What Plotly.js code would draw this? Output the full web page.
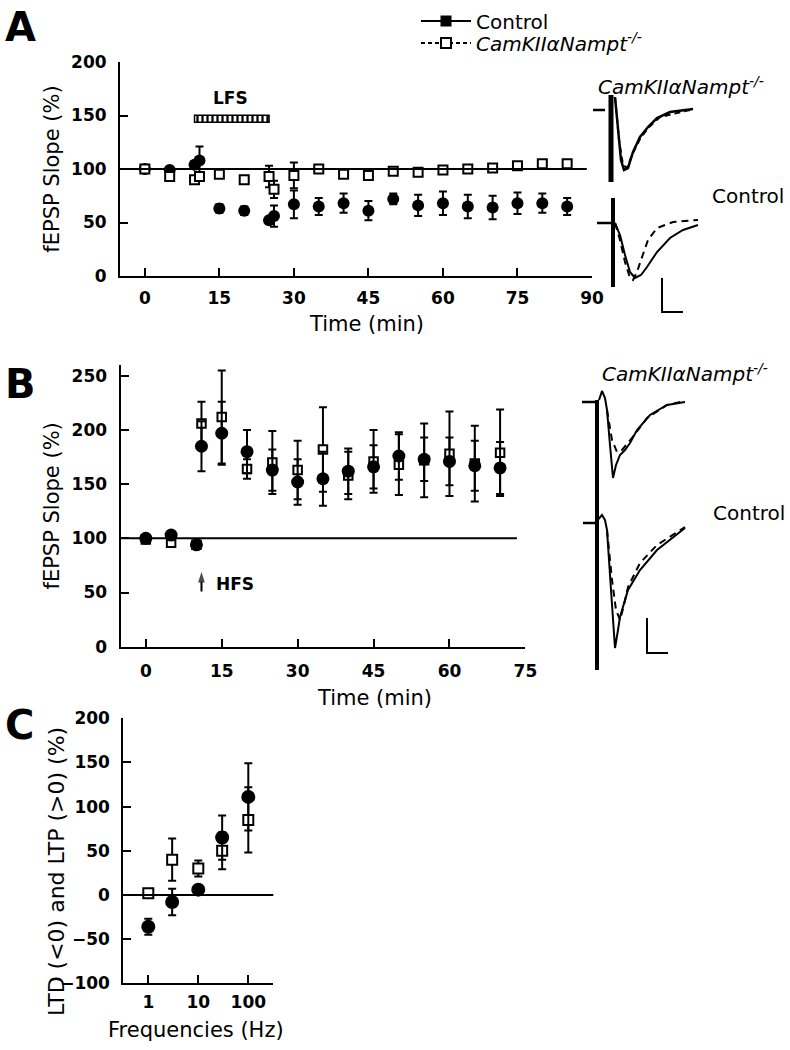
<!DOCTYPE html>
<html>
<head>
<meta charset="utf-8">
<script src="https://cdn.plot.ly/plotly-3.0.1.min.js"></script>
<style>html,body{margin:0;padding:0;background:#fff;}#chart{width:790px;height:1050px;}</style>
</head>
<body>
<div id="chart"></div>
<script>
// ---------- Panel A : LFS (fEPSP slope %) ----------
const timeA = [0, 5, 10, 11, 15, 20, 25, 26, 30, 35, 40, 45, 50, 55, 60, 65, 70, 75, 80, 85];
const ctrlA = [100, 99, 104, 108, 63, 61, 52, 56, 67, 65, 68, 61, 72, 66, 68, 65, 64, 68, 68, 65];
const ctrlAerr = [2, 2, 3, 13, 4, 4, 3, 10, 13, 8, 9, 9, 5, 10, 11, 11, 11, 10, 9, 8];
const koA = [100, 93, 90, 93, 95, 90, 93, 81, 94, 100, 95, 94, 98, 97, 99, 100, 101, 103, 105, 105];
const koAerr = [2, 3, 3, 3, 2, 3, 10, 8, 12, 2, 3, 4, 3, 3, 2, 2, 2, 2, 2, 2];
const lfsStart = [10], lfsDuration = [15], lfsLevel = [147];

// ---------- Panel B : HFS ----------
const timeB = [0, 5, 10, 11, 15, 20, 25, 30, 35, 40, 45, 50, 55, 60, 65, 70];
const ctrlB = [100, 103, 94, 185, 197, 180, 163, 152, 155, 162, 166, 176, 173, 171, 167, 165];
const ctrlBerr = [2, 2, 2, 23, 29, 20, 19, 21, 25, 21, 20, 22, 20, 22, 23, 24];
const koB = [99, 96, 94, 206, 212, 164, 170, 163, 182, 158, 171, 168, 172, 178, 169, 179];
const koBerr = [2, 2, 2, 20, 43, 9, 29, 27, 39, 22, 29, 28, 34, 39, 35, 40];
const hfsTime = [11, 11], hfsArrow = [51, 69];

// ---------- Panel C : frequency response ----------
const freqC = [1, 3, 10, 30, 100];
const ctrlC = [-36, -8, 6, 65, 111];
const ctrlCerr = [9, 15, 4, 25, 38];
const koC = [2, 40, 30, 50, 85];
const koCerr = [3, 24, 9, 21, 37];

// ---------- Example fEPSP traces (arbitrary units) ----------
// Panel A inset, KO
const aKoStubX = [8, 20], aKoStubY = [210, 210];
const aKoArtX = [26, 26], aKoArtY = [225, 138];
const aKoSolidX = [30, 33, 36, 39, 43, 48, 55, 63, 72, 85, 108];
const aKoSolidY = [223, 190, 160, 150, 152, 168, 183, 193, 202, 208, 211];
const aKoDashX = [30, 34, 38, 42, 47, 55, 63, 75, 105];
const aKoDashY = [223, 180, 155, 152, 165, 181, 192, 203, 210];
// Panel A inset, Control
const aCtStubX = [12, 27], aCtStubY = [97, 97];
const aCtArtX = [28, 28], aCtArtY = [122, 33];
const aCtSolidX = [30, 35, 40, 45, 50, 56, 62, 72, 85, 98, 113];
const aCtSolidY = [97, 85, 65, 48, 42, 45, 53, 68, 82, 90, 95];
const aCtDashX = [30, 35, 40, 45, 48, 52, 56, 63, 72, 88, 113];
const aCtDashY = [97, 80, 58, 42, 40, 48, 60, 80, 92, 98, 100];
const aBarX = [77, 77, 98], aBarY = [42, 8, 8];
// Panel B inset, KO
const bKoStubX = [7, 20], bKoStubY = [278, 278];
const bArtX = [22, 22], bArtY = [280, 10];
const bKoSolidX = [24, 27, 30, 32, 35, 38, 41, 45, 50, 55, 62, 75, 92, 110];
const bKoSolidY = [280, 289, 282, 270, 235, 202, 215, 225, 230, 237, 250, 265, 275, 278];
const bKoDashX = [32, 37, 42, 47, 57, 72, 92, 110];
const bKoDashY = [270, 240, 228, 230, 242, 262, 275, 279];
// Panel B inset, Control
const bCtStubX = [8, 20], bCtStubY = [157, 157];
const bCtSolidX = [20, 27, 30, 32, 36, 40, 43, 45, 53, 65, 82, 110];
const bCtSolidY = [157, 165, 160, 150, 90, 32, 50, 63, 90, 110, 130, 152];
const bCtDashX = [32, 37, 41, 45, 49, 53, 65, 82, 110];
const bCtDashY = [150, 100, 70, 60, 75, 93, 117, 135, 153];
const bBarX = [72, 72, 93], bBarY = [62, 27, 27];

// ---------- layout helpers ----------
const W = 790, H = 1050;
const px = v => v / W;
const py = v => 1 - v / H;
const FONT = 'DejaVu Sans';

function errBar(arr) {
  return {type: 'data', array: arr, visible: true, color: 'black', thickness: 2, width: 4};
}
function axisBase(extra) {
  return Object.assign({
    showline: true, linewidth: 2, linecolor: 'black',
    ticks: 'inside', ticklen: 8, tickwidth: 2, tickcolor: 'black',
    showgrid: false, zeroline: false, fixedrange: true,
    tickfont: {family: FONT, size: 17, color: 'black', weight: 'bold'}
  }, extra);
}
function wave(x, y, xa, ya, dash, width) {
  return {x: x, y: y, xaxis: xa, yaxis: ya, mode: 'lines', showlegend: false, hoverinfo: 'skip',
          line: {color: 'black', width: width || 2, dash: dash || 'solid'}};
}

const circle = (size) => ({symbol: 'circle', size: size, color: 'black', line: {width: 0}});
const square = (size) => ({symbol: 'square', size: size, color: 'white', line: {color: 'black', width: 2}});
const KO_NAME = '<i>CamKIIαNampt</i><sup><i>-/-</i></sup>';

const data = [
  // legend entries
  {x: [null], y: [null], name: 'Control', mode: 'lines+markers', xaxis: 'x', yaxis: 'y', legend: 'legend',
   line: {color: 'black', width: 2}, marker: {symbol: 'square', size: 11, color: 'black'}},
  {x: [null], y: [null], name: KO_NAME, mode: 'lines+markers', xaxis: 'x', yaxis: 'y', legend: 'legend2',
   line: {color: 'black', width: 2, dash: '4px,3px'}, marker: {symbol: 'square', size: 10, color: 'white', line: {color: 'black', width: 2}}},

  // Panel A
  {type: 'bar', orientation: 'h', x: lfsDuration, base: lfsStart, y: lfsLevel, width: 6.5, xaxis: 'x', yaxis: 'y',
   showlegend: false, hoverinfo: 'skip',
   marker: {color: 'white', line: {color: 'black', width: 1.5},
            pattern: {shape: '|', size: 5, solidity: 0.45, fgcolor: 'black', bgcolor: 'white'}}},
  {x: timeA, y: ctrlA, error_y: errBar(ctrlAerr), mode: 'markers', xaxis: 'x', yaxis: 'y',
   marker: circle(12), showlegend: false},
  {x: timeA, y: koA, error_y: errBar(koAerr), mode: 'markers', xaxis: 'x', yaxis: 'y',
   marker: square(9), showlegend: false},

  // Panel B
  {x: timeB, y: koB, error_y: errBar(koBerr), mode: 'markers', xaxis: 'x2', yaxis: 'y2',
   marker: square(8.5), showlegend: false},
  {x: timeB, y: ctrlB, error_y: errBar(ctrlBerr), mode: 'markers', xaxis: 'x2', yaxis: 'y2',
   marker: circle(13), showlegend: false},
  {x: hfsTime, y: hfsArrow, mode: 'lines+markers', xaxis: 'x2', yaxis: 'y2', showlegend: false, hoverinfo: 'skip',
   line: {color: 'black', width: 2},
   marker: {symbol: 'arrow', angleref: 'previous', size: [0, 11], color: 'black', line: {width: 0}}},

  // Panel C
  {x: freqC, y: koC, error_y: errBar(koCerr), mode: 'markers', xaxis: 'x3', yaxis: 'y3',
   marker: square(10), showlegend: false},
  {x: freqC, y: ctrlC, error_y: errBar(ctrlCerr), mode: 'markers', xaxis: 'x3', yaxis: 'y3',
   marker: circle(14), showlegend: false},

  // Panel A example traces
  wave(aKoStubX, aKoStubY, 'x4', 'y4', 'solid', 2.5),
  wave(aKoArtX, aKoArtY, 'x4', 'y4', 'solid', 5),
  wave(aKoDashX, aKoDashY, 'x4', 'y4', '6px,4px', 2),
  wave(aKoSolidX, aKoSolidY, 'x4', 'y4', 'solid', 2.5),
  wave(aCtStubX, aCtStubY, 'x4', 'y4', 'solid', 2.5),
  wave(aCtArtX, aCtArtY, 'x4', 'y4', 'solid', 4),
  wave(aCtDashX, aCtDashY, 'x4', 'y4', '7px,5px', 2),
  wave(aCtSolidX, aCtSolidY, 'x4', 'y4', 'solid', 2),
  wave(aBarX, aBarY, 'x4', 'y4', 'solid', 2),

  // Panel B example traces
  wave(bKoStubX, bKoStubY, 'x5', 'y5', 'solid', 2.5),
  wave(bArtX, bArtY, 'x5', 'y5', 'solid', 4),
  wave(bKoDashX, bKoDashY, 'x5', 'y5', '7px,5px', 2),
  wave(bKoSolidX, bKoSolidY, 'x5', 'y5', 'solid', 2),
  wave(bCtStubX, bCtStubY, 'x5', 'y5', 'solid', 2.5),
  wave(bCtDashX, bCtDashY, 'x5', 'y5', '7px,5px', 2),
  wave(bCtSolidX, bCtSolidY, 'x5', 'y5', 'solid', 2),
  wave(bBarX, bBarY, 'x5', 'y5', 'solid', 2)
];

const titleFont = {family: FONT, size: 21, color: 'black'};
const legendBase = {xanchor: 'left', yanchor: 'middle', bgcolor: 'rgba(0,0,0,0)', borderwidth: 0,
  font: {family: FONT, size: 20, color: 'black'}, itemwidth: 50};

const layout = {
  width: W, height: H,
  margin: {l: 0, r: 0, t: 0, b: 0},
  paper_bgcolor: 'white', plot_bgcolor: 'rgba(0,0,0,0)',
  font: {family: FONT, color: 'black'},
  showlegend: true,
  legend: Object.assign({x: px(416), y: py(21)}, legendBase),
  legend2: Object.assign({x: px(416), y: py(43)}, legendBase),
  barmode: 'overlay',

  // Panel A
  xaxis: axisBase({domain: [px(120), px(592)], range: [-5, 90], tickvals: [0, 15, 30, 45, 60, 75, 90],
    anchor: 'y', ticklabelstandoff: 6}),
  yaxis: axisBase({domain: [py(276), py(62)], range: [0, 200], tickvals: [0, 50, 100, 150, 200],
    anchor: 'x', ticklabelstandoff: 8,
    title: {text: 'fEPSP Slope (%)', font: titleFont, standoff: 6}}),

  // Panel B
  xaxis2: axisBase({domain: [px(120.5), px(525.4)], range: [-5, 75], tickvals: [0, 15, 30, 45, 60, 75],
    anchor: 'y2', ticklabelstandoff: 8}),
  yaxis2: axisBase({domain: [py(646.7), py(365)], range: [0, 260], tickvals: [0, 50, 100, 150, 200, 250],
    anchor: 'x2', ticklabelstandoff: 8,
    title: {text: 'fEPSP Slope (%)', font: titleFont, standoff: 6}}),

  // Panel C
  xaxis3: axisBase({domain: [px(123.3), px(273.3)], type: 'log', range: [-0.5, 2.5],
    tickvals: [1, 10, 100], ticktext: ['1', '10', '100'], anchor: 'y3', ticklabelstandoff: 2}),
  yaxis3: axisBase({domain: [py(983.3), py(718.3)], range: [-100, 200],
    tickvals: [-100, -50, 0, 50, 100, 150, 200], anchor: 'x3', ticklabelstandoff: 8}),

  // insets (hidden axes)
  xaxis4: {domain: [px(585), px(705)], range: [0, 120], visible: false, fixedrange: true, anchor: 'y4'},
  yaxis4: {domain: [py(320), py(90)], range: [0, 230], visible: false, fixedrange: true, anchor: 'x4'},
  xaxis5: {domain: [px(575), px(695)], range: [0, 120], visible: false, fixedrange: true, anchor: 'y5'},
  yaxis5: {domain: [py(680), py(380)], range: [0, 300], visible: false, fixedrange: true, anchor: 'x5'},

  shapes: [
    {type: 'line', xref: 'x domain', yref: 'y', x0: 0, x1: 0.989, y0: 100, y1: 100, line: {color: 'black', width: 2}},
    {type: 'line', xref: 'x2 domain', yref: 'y2', x0: 0, x1: 0.979, y0: 100, y1: 100, line: {color: 'black', width: 2}},
    {type: 'line', xref: 'x3 domain', yref: 'y3', x0: 0, x1: 1, y0: 0, y1: 0, line: {color: 'black', width: 2}}
  ],

  annotations: [
    {xref: 'paper', yref: 'paper', x: px(3), y: py(27), xanchor: 'left', yanchor: 'middle', showarrow: false,
     text: '<b>A</b>', font: {family: FONT, size: 40, color: 'black'}},
    {xref: 'paper', yref: 'paper', x: px(3), y: py(384), xanchor: 'left', yanchor: 'middle', showarrow: false,
     text: '<b>B</b>', font: {family: FONT, size: 40, color: 'black'}},
    {xref: 'paper', yref: 'paper', x: px(3), y: py(725), xanchor: 'left', yanchor: 'middle', showarrow: false,
     text: '<b>C</b>', font: {family: FONT, size: 40, color: 'black'}},

    // axis titles placed as in the reference
    {xref: 'paper', yref: 'paper', x: px(366), y: py(324), xanchor: 'center', yanchor: 'middle', showarrow: false,
     text: 'Time (min)', font: titleFont},
    {xref: 'paper', yref: 'paper', x: px(374), y: py(698), xanchor: 'center', yanchor: 'middle', showarrow: false,
     text: 'Time (min)', font: titleFont},
    {xref: 'paper', yref: 'paper', x: px(196), y: py(1030), xanchor: 'center', yanchor: 'middle', showarrow: false,
     text: 'Frequencies (Hz)', font: titleFont},
    {xref: 'paper', yref: 'paper', x: px(56), y: py(872), xanchor: 'center', yanchor: 'middle', showarrow: false,
     textangle: -90, text: 'LTD (<0) and LTP (>0) (%)', font: {family: FONT, size: 22, color: 'black'}},

    {xref: 'x', yref: 'y', x: 17.3, y: 166, showarrow: false, text: '<b>LFS</b>',
     font: {family: FONT, size: 17, color: 'black'}},
    {xref: 'x2', yref: 'y2', x: 13.4, y: 58, xanchor: 'left', showarrow: false, text: '<b>HFS</b>',
     font: {family: FONT, size: 17, color: 'black'}},

    {xref: 'paper', yref: 'paper', x: px(596), y: py(86), xanchor: 'left', yanchor: 'middle', showarrow: false,
     text: KO_NAME, font: {family: FONT, size: 20, color: 'black'}},
    {xref: 'paper', yref: 'paper', x: px(710), y: py(196), xanchor: 'left', yanchor: 'middle', showarrow: false,
     text: 'Control', font: {family: FONT, size: 20, color: 'black'}},
    {xref: 'paper', yref: 'paper', x: px(600), y: py(373), xanchor: 'left', yanchor: 'middle', showarrow: false,
     text: KO_NAME, font: {family: FONT, size: 20, color: 'black'}},
    {xref: 'paper', yref: 'paper', x: px(711), y: py(513), xanchor: 'left', yanchor: 'middle', showarrow: false,
     text: 'Control', font: {family: FONT, size: 20, color: 'black'}}
  ]
};

Plotly.newPlot('chart', data, layout, {staticPlot: true, displayModeBar: false});
</script>
</body>
</html>
